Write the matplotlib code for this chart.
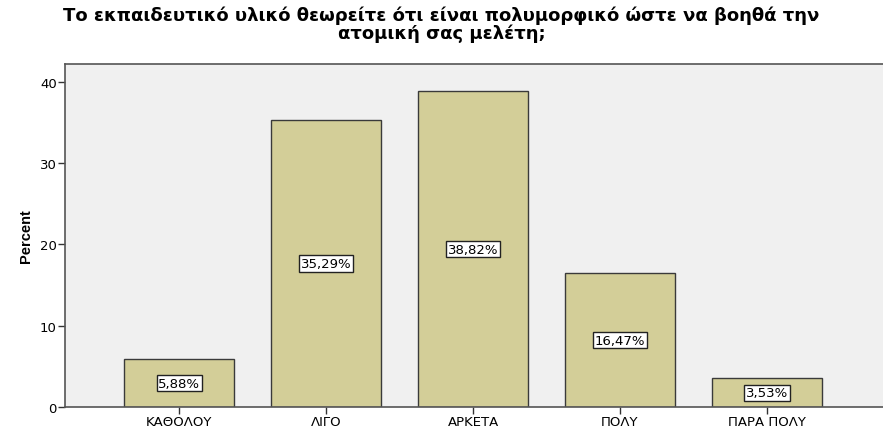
import numpy as np
import matplotlib
matplotlib.use("Agg")
import matplotlib.pyplot as plt

# percent per answer category
categories = ["ΚΑΘΟΛΟΥ", "ΛΙΓΟ", "ΑΡΚΕΤΑ", "ΠΟΛΥ", "ΠΑΡΑ ΠΟΛΥ"]
percent = [5.88, 35.29, 38.82, 16.47, 3.53]
bar_labels = ["5,88%", "35,29%", "38,82%", "16,47%", "3,53%"]

plt.rcParams['font.family'] = ['DejaVu Sans']

W, H = 883, 431
fig = plt.figure(figsize=(W / 100, H / 100), dpi=100)
ax = fig.add_axes([65 / W, 1 - 408 / H, 1 - 65 / W + 0.01, (408 - 65) / H])
ax.set_facecolor('#f0f0f0')

x = np.arange(len(categories))
ax.bar(x, percent, width=0.75, color='#d3ce98', edgecolor='#3a3a3a', linewidth=1.0, zorder=2)

for xi, v, lab in zip(x, percent, bar_labels):
    ax.text(xi, v / 2, lab, ha='center', va='center', fontsize=9.5, zorder=3,
            bbox=dict(boxstyle='square,pad=0.12', fc='white', ec='#222222', lw=1.0))

ax.set_xlim(-0.777, -0.777 + (883 - 65) / 148 + 0.1)
ax.set_ylim(0, 42.2)
ax.set_yticks([0, 10, 20, 30, 40])
ax.set_xticks(x)
ax.set_xticklabels(categories, fontsize=9.5)
ax.tick_params(axis='y', labelsize=9.5, length=5, width=1, color='#333333', pad=1)
ax.tick_params(axis='x', length=5, width=1, color='#333333', pad=1)

for side in ['left', 'bottom', 'top', 'right']:
    ax.spines[side].set_color('#555555')
    ax.spines[side].set_linewidth(1.2)

ax.set_ylabel('Percent', fontsize=10.5, fontweight='bold', labelpad=5,
              family='Liberation Sans')

fig.text(0.5, 0.985, "Το εκπαιδευτικό υλικό θεωρείτε ότι είναι πολυμορφικό ώστε να βοηθά την\nατομική σας μελέτη;",
         ha='center', va='top', fontsize=13, fontweight='bold', linespacing=0.95)

fig.savefig('out.png', dpi=100)
